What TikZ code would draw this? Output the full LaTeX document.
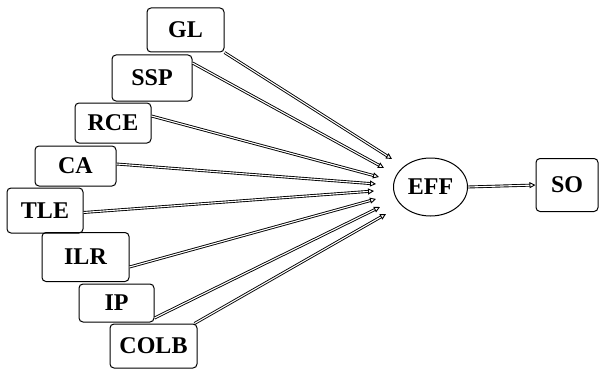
\documentclass[tikz,border=0pt]{standalone}
\usepackage{fontspec}
\setmainfont{Liberation Serif}
\usetikzlibrary{arrows.meta,shapes.geometric}
\begin{document}
\begin{tikzpicture}[x=1pt,y=-1pt,
  lbl/.style={font=\fontsize{24}{26}\selectfont\bfseries},
  box/.style={draw,line width=1pt,rounded corners=4pt,inner sep=0pt,lbl},
  conn/.style={double,line width=0.9pt,double distance=1.1pt,-{Triangle[open,length=6pt,width=6pt]}}]
\useasboundingbox (0,0) rectangle (599,369);
\node[box,minimum width=77pt,minimum height=44pt] (gl) at (185.5,30) {GL};
\node[box,minimum width=80pt,minimum height=46pt] (ssp) at (152,78) {SSP};
\node[box,minimum width=76pt,minimum height=40pt] (rce) at (113,123) {RCE};
\node[box,minimum width=81pt,minimum height=40pt] (ca) at (75.5,166) {CA};
\node[box,minimum width=76pt,minimum height=45pt] (tle) at (45,210.5) {TLE};
\node[box,minimum width=87pt,minimum height=49pt] (ilr) at (85.5,257) {ILR};
\node[box,minimum width=75pt,minimum height=38pt] (ip) at (116.5,303) {IP};
\node[box,minimum width=87pt,minimum height=44pt] (colb) at (153.5,346) {COLB};
\node[draw,line width=1pt,ellipse,minimum width=74pt,minimum height=58pt,inner sep=0pt,lbl] (eff) at (430.5,187) {EFF};
\node[box,minimum width=62pt,minimum height=53pt] (so) at (567,185) {SO};
\coordinate (t1) at (392,159);
\coordinate (t2) at (384,168);
\coordinate (t3) at (379,177);
\coordinate (t4) at (376,184);
\coordinate (t5) at (374,191);
\coordinate (t6) at (376,199);
\coordinate (t7) at (380,207);
\coordinate (t8) at (386,214);
\draw[conn] (gl.south east) -- (t1);
\draw[conn] ([yshift=15pt]ssp.east) -- (t2);
\draw[conn] ([yshift=7pt]rce.east) -- (t3);
\draw[conn] ([yshift=2pt]ca.east) -- (t4);
\draw[conn] ([yshift=-2pt]tle.east) -- (t5);
\draw[conn] ([yshift=-10pt]ilr.east) -- (t6);
\draw[conn] ([yshift=-15pt]ip.east) -- (t7);
\draw[conn] ([xshift=-3pt]colb.north east) -- (t8);
\draw[conn] (eff.east) -- (so.west);
\end{tikzpicture}
\end{document}
